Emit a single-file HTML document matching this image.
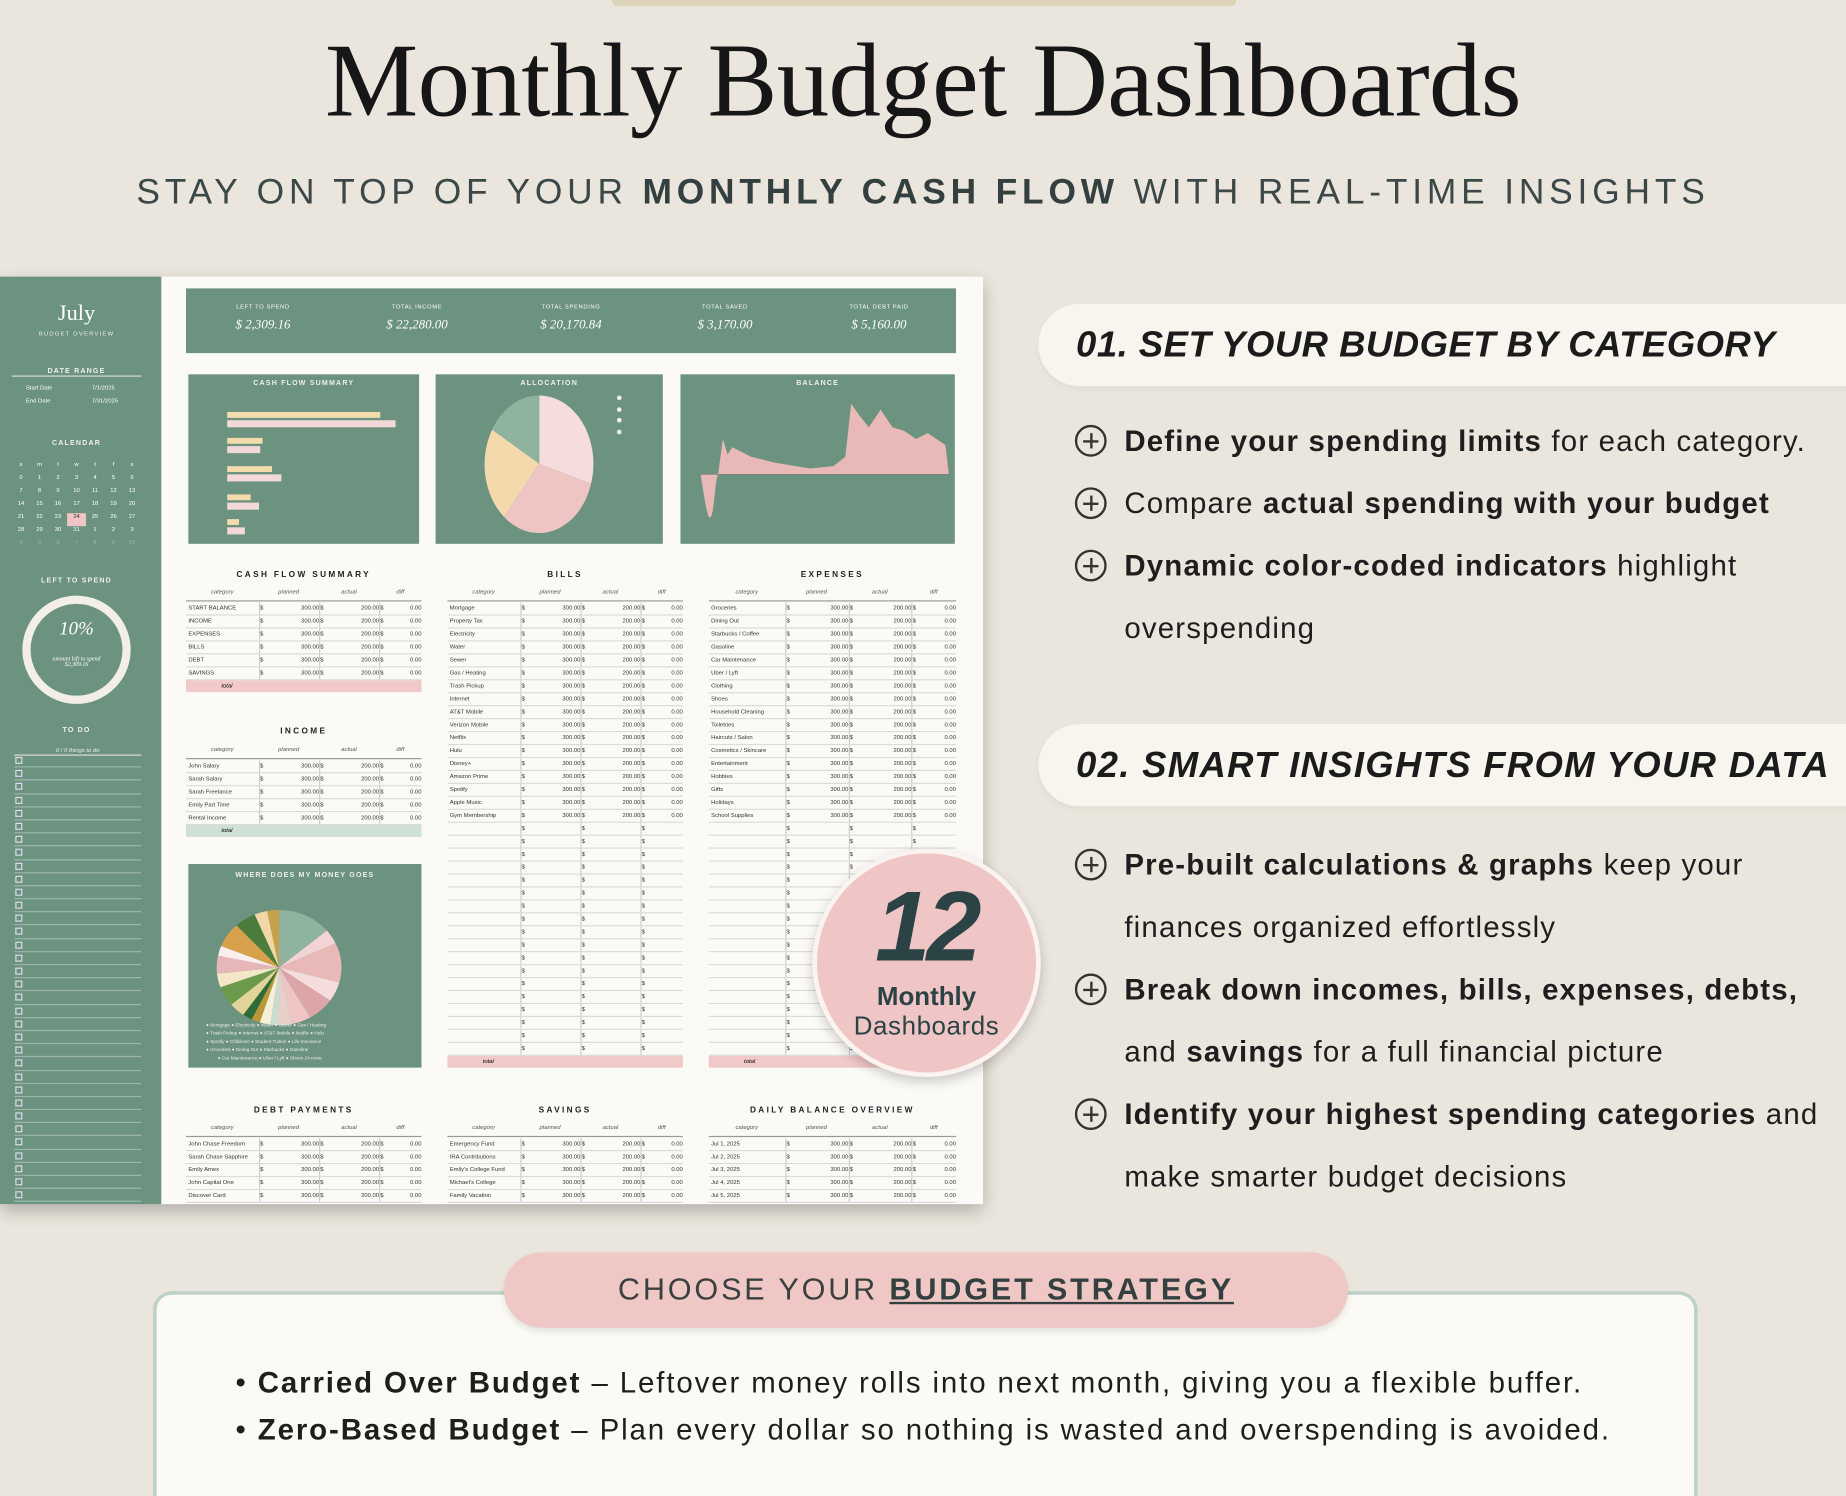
<!DOCTYPE html>
<html><head><meta charset="utf-8">
<style>
*{margin:0;padding:0;box-sizing:border-box}
html,body{width:1846px;height:1496px;overflow:hidden;background:#ebe6dd}
#w{position:absolute;left:0;top:0;width:1568px;height:1271px;transform:scale(1.17730,1.17710);transform-origin:0 0;background:#ebe6dd;font-family:"Liberation Sans",sans-serif;overflow:hidden}
.a{position:absolute}
.title{left:0;width:1568px;top:18px;text-align:center;font-family:"Liberation Serif",serif;font-size:89px;color:#161616;letter-spacing:-0.5px}
.sub{left:0;width:1568px;top:147px;text-align:center;font-size:30px;letter-spacing:4.1px;color:#3b4847}
.sub b{color:#33403f}
.g{background:#6c9280}
.tt{font-size:6px;color:#eee;text-align:center;letter-spacing:1px;font-weight:bold}
.th{font-size:7px;font-weight:bold;letter-spacing:2px;text-align:center;color:#222}
.row{position:absolute;left:0;right:0;height:11px;border-bottom:1px solid #d9dcd7;font-size:5px;color:#333;line-height:11px;padding-left:2px}
.pill{position:absolute;background:#f8f5ef;border-radius:36px 0 0 36px;left:882px;width:700px;height:70px;box-shadow:0 2px 6px rgba(0,0,0,.05)}
.pill span{position:absolute;left:32px;top:17px;font-size:31px;font-weight:bold;font-style:italic;color:#1b1b1b;letter-spacing:.4px}
.bl{position:absolute;left:955px;font-size:25px;color:#1e1e1e;letter-spacing:1px}
.ic{position:absolute;left:913px;width:27px;height:27px;border:2px solid #333;border-radius:50%}
.ic:before{content:"";position:absolute;left:5px;top:10.5px;width:13px;height:2px;background:#333}
.ic:after{content:"";position:absolute;left:10.5px;top:5px;width:2px;height:13px;background:#333}
</style></head><body><div id="w">
<div class="a" style="left:520px;top:0;width:530px;height:5px;background:#dcd3b8;border-radius:0 0 4px 4px"></div>
<div class="a title">Monthly Budget Dashboards</div>
<div class="a sub">STAY ON TOP OF YOUR <b>MONTHLY CASH FLOW</b> WITH REAL-TIME INSIGHTS</div>

<!-- dashboard -->
<div class="a" style="left:0;top:235px;width:835px;height:788px;background:#fbfaf6;box-shadow:0 6px 14px rgba(0,0,0,.25)"></div>
<div class="a g" style="left:0;top:235px;width:137px;height:788px"></div>
<div class="a" style="left:0;top:256px;width:130px;text-align:center;font-family:'Liberation Serif',serif;font-size:19px;color:#fff">July</div>
<div class="a" style="left:0;top:281px;width:130px;text-align:center;font-size:5px;color:#eee;letter-spacing:1px">· BUDGET OVERVIEW ·</div>
<div class="a tt" style="left:10px;top:313px;width:110px;border-bottom:1px solid #ddd">DATE RANGE</div>
<div class="a" style="left:22px;top:325px;font-size:5px;color:#fff;line-height:11px">Start Date<br>End Date</div>
<div class="a" style="left:78px;top:325px;font-size:5px;color:#fff;line-height:11px">7/1/2025<br>7/31/2025</div>
<div class="a tt" style="left:10px;top:374px;width:110px">CALENDAR</div>
<div id="cal" class="a" style="left:10px;top:392px;width:110px"></div>
<div class="a tt" style="left:10px;top:491px;width:110px">LEFT TO SPEND</div>
<div class="a" style="left:19px;top:506px;width:92px;height:92px;border:7px solid #f4efe6;border-radius:50%"></div>
<div class="a" style="left:19px;top:526px;width:92px;text-align:center;font-family:'Liberation Serif',serif;font-style:italic;color:#fff;font-size:16px">10%</div>
<div class="a" style="left:19px;top:558px;width:92px;text-align:center;font-family:'Liberation Serif',serif;font-style:italic;color:#fff;font-size:5px">amount left to spend<br>$2,309.16</div>
<div class="a tt" style="left:10px;top:618px;width:110px">TO DO</div>
<div class="a" style="left:12px;top:635px;width:108px;text-align:center;font-size:5px;color:#eee;font-style:italic;border-bottom:1px solid #ddd">0 / 0 things to do</div>
<div id="todo" class="a" style="left:12px;top:641px;width:108px;height:380px"></div>

<div class="a g" style="left:158px;top:245px;width:654px;height:55px"></div>
<div id="kpi" class="a" style="left:158px;top:258px;width:654px;height:35px;display:flex"></div>

<div class="a g" style="left:160px;top:318px;width:196px;height:144px"></div>
<div class="a tt" style="left:160px;top:323px;width:196px">CASH FLOW SUMMARY</div>
<div class="a" style="left:193px;top:350px;width:130px;height:5px;background:#f2dcae"></div>
<div class="a" style="left:193px;top:357px;width:143px;height:6px;background:#f3d8d8"></div>
<div class="a" style="left:193px;top:372px;width:30px;height:5px;background:#f2dcae"></div>
<div class="a" style="left:193px;top:379px;width:28px;height:6px;background:#f3d8d8"></div>
<div class="a" style="left:193px;top:396px;width:38px;height:5px;background:#f2dcae"></div>
<div class="a" style="left:193px;top:403px;width:46px;height:6px;background:#f3d8d8"></div>
<div class="a" style="left:193px;top:420px;width:20px;height:5px;background:#f2dcae"></div>
<div class="a" style="left:193px;top:427px;width:27px;height:6px;background:#f3d8d8"></div>
<div class="a" style="left:193px;top:441px;width:10px;height:5px;background:#f2dcae"></div>
<div class="a" style="left:193px;top:448px;width:15px;height:6px;background:#f3d8d8"></div>

<div class="a g" style="left:370px;top:318px;width:193px;height:144px"></div>
<div class="a tt" style="left:370px;top:323px;width:193px">ALLOCATION</div>
<svg class="a" style="left:370px;top:318px" width="193" height="144" viewBox="0 0 193 144">
<g transform="translate(88,76)">
<path d="M0,0 L0,-58 A46,58 0 0 1 44,17 Z" fill="#f5dcdd"/>
<path d="M0,0 L44,17 A46,58 0 0 1 -30,45 Z" fill="#efc5c4"/>
<path d="M0,0 L-30,45 A46,58 0 0 1 -40,-29 Z" fill="#f3d9ab"/>
<path d="M0,0 L-40,-29 A46,58 0 0 1 0,-58 Z" fill="#8fb39f"/>
</g>
<g fill="#eee"><circle cx="156" cy="20" r="2"/><circle cx="156" cy="30" r="2"/><circle cx="156" cy="39" r="2"/><circle cx="156" cy="49" r="2"/></g>
</svg>

<div class="a g" style="left:578px;top:318px;width:233px;height:144px"></div>
<div class="a tt" style="left:578px;top:323px;width:233px">BALANCE</div>
<svg class="a" style="left:578px;top:318px" width="233" height="144" viewBox="0 0 233 144">
<path d="M17,85 C20,100 24,140 28,112 C30,95 30,90 32,85 L32,85 Z" fill="#e8b9b6"/>
<path d="M32,85 L36,55 L40,68 L44,62 L60,70 L80,75 L110,80 L130,78 L140,70 L145,25 L152,35 L160,45 L170,30 L180,45 L190,48 L200,55 L210,50 L225,60 L228,85 Z" fill="#e8b9b6"/>
<line x1="15" y1="85" x2="228" y2="85" stroke="#557" stroke-width=".3"/>
</svg>

<div class="a th" style="left:158px;top:485px;width:200px">CASH FLOW SUMMARY</div>
<div class="a th" style="left:380px;top:485px;width:200px">BILLS</div>
<div class="a th" style="left:602px;top:485px;width:210px">EXPENSES</div>
<div id="t1" class="a" style="left:158px;top:500px;width:200px;height:90px"></div>
<div id="t2" class="a" style="left:380px;top:500px;width:200px;height:412px"></div>
<div id="t3" class="a" style="left:602px;top:500px;width:210px;height:412px"></div>
<div class="a th" style="left:158px;top:618px;width:200px">INCOME</div>
<div id="t4" class="a" style="left:158px;top:634px;width:200px;height:78px"></div>

<div class="a g" style="left:160px;top:734px;width:198px;height:173px"></div>
<div class="a tt" style="left:160px;top:741px;width:198px">WHERE DOES MY MONEY GOES</div>
<svg class="a" style="left:160px;top:734px" width="198" height="173" viewBox="0 0 198 173">
<g id="pie2" transform="translate(77,86)"></g>
<g fill="#eee" font-size="4" font-family="Liberation Sans"><text x="15" y="138">● Mortgage ● Electricity ● Water ● Sewer ● Gas / Heating</text><text x="15" y="145">● Trash Pickup ● Internet ● AT&amp;T Mobile ● Netflix ● Hulu</text><text x="15" y="152">● Spotify ● Childcare ● Student Tuition ● Life Insurance</text><text x="15" y="159">● Groceries ● Dining Out ● Starbucks ● Gasoline</text><text x="25" y="166">● Car Maintenance ● Uber / Lyft ● Shoes 24 more</text></g>
</svg>

<div class="a th" style="left:158px;top:940px;width:200px">DEBT PAYMENTS</div>
<div class="a th" style="left:380px;top:940px;width:200px">SAVINGS</div>
<div class="a th" style="left:602px;top:940px;width:210px">DAILY BALANCE OVERVIEW</div>
<div id="t5" class="a" style="left:158px;top:955px;width:200px;height:68px"></div>
<div id="t6" class="a" style="left:380px;top:955px;width:200px;height:68px"></div>
<div id="t7" class="a" style="left:602px;top:955px;width:210px;height:68px"></div>

<!-- badge -->
<div class="a" style="left:690px;top:721px;width:194px;height:194px;border-radius:50%;background:#efc6c5;border:4px solid #fbf3f0;box-shadow:0 4px 10px rgba(0,0,0,.2)"></div>
<div class="a" style="left:690px;top:742px;width:194px;text-align:center;font-size:84px;font-weight:bold;font-style:italic;color:#2c4346;letter-spacing:-3px;line-height:90px">12</div>
<div class="a" style="left:690px;top:834px;width:194px;text-align:center;font-size:22px;font-weight:bold;color:#2c4346">Monthly</div>
<div class="a" style="left:690px;top:859px;width:194px;text-align:center;font-size:22px;color:#2c4346;letter-spacing:.5px">Dashboards</div>

<!-- right -->
<div class="pill" style="top:258px"><span>01. SET YOUR BUDGET BY CATEGORY</span></div>
<div class="ic" style="top:361px"></div><div class="bl" style="top:361px"><b>Define your spending limits</b> for each category.</div>
<div class="ic" style="top:414px"></div><div class="bl" style="top:414px">Compare <b>actual spending with your budget</b></div>
<div class="ic" style="top:467px"></div><div class="bl" style="top:467px"><b>Dynamic color-coded indicators</b> highlight</div>
<div class="bl" style="top:520px">overspending</div>
<div class="pill" style="top:615px"><span style="letter-spacing:1.1px">02. SMART INSIGHTS FROM YOUR DATA</span></div>
<div class="ic" style="top:721px"></div><div class="bl" style="top:721px"><b>Pre-built calculations &amp; graphs</b> keep your</div>
<div class="bl" style="top:774px">finances organized effortlessly</div>
<div class="ic" style="top:827px"></div><div class="bl" style="top:827px"><b>Break down incomes, bills, expenses, debts,</b></div>
<div class="bl" style="top:880px">and <b>savings</b> for a full financial picture</div>
<div class="ic" style="top:933px"></div><div class="bl" style="top:933px"><b>Identify your highest spending categories</b> and</div>
<div class="bl" style="top:986px">make smarter budget decisions</div>

<!-- bottom -->
<div class="a" style="left:130px;top:1097px;width:1312px;height:200px;border:3px solid #bcd2c7;border-radius:16px;background:#fbfaf5"></div>
<div class="a" style="left:428px;top:1064px;width:717px;height:64px;border-radius:32px;background:#efc7c5;box-shadow:0 3px 6px rgba(0,0,0,.1)"></div>
<div class="a" style="left:428px;top:1080px;width:717px;text-align:center;font-size:26px;letter-spacing:2.4px;color:#3a3f3f">CHOOSE YOUR <b style="text-decoration:underline;color:#34403f">BUDGET STRATEGY</b></div>
<div class="a" style="left:200px;top:1155px;font-size:25px;color:#1e1e1e;letter-spacing:1.6px;line-height:40px;white-space:nowrap">• <b>Carried Over Budget</b> – Leftover money rolls into next month, giving you a flexible buffer.<br>• <b>Zero-Based Budget</b> – Plan every dollar so nothing is wasted and overspending is avoided.</div>
</div>
<script>
function el(p,h){document.getElementById(p).innerHTML+=h}
var k=[["LEFT TO SPEND","$ 2,309.16"],["TOTAL INCOME","$ 22,280.00"],["TOTAL SPENDING","$ 20,170.84"],["TOTAL SAVED","$ 3,170.00"],["TOTAL DEBT PAID","$ 5,160.00"]];
k.forEach(function(x){el("kpi",'<div style="flex:1;text-align:center;color:#fff"><div style="font-size:5px;letter-spacing:.5px">'+x[0]+'</div><div style="font-family:Liberation Serif,serif;font-style:italic;font-size:11px;margin-top:6px">'+x[1]+'</div></div>')});
var c="";for(var r=0;r<7;r++){c+='<div style="display:flex;font-size:5px;color:'+(r>5?'#9bb5a8':'#fff')+';height:11px">';for(var d=0;d<7;d++){var bg=(r==4&&d==3)?'background:#efc6c5;color:#333':'';c+='<div style="flex:1;text-align:center;'+bg+'">'+(r==0?'smtwtfs'[d]:((r-1)*7+d-1)%31+1)+'</div>'}c+='</div>'}el("cal",c);
for(var i=0;i<34;i++)el("todo",'<div style="height:11.2px;border-bottom:1px solid #9db8ab;position:relative"><span style="position:absolute;left:1px;top:2px;width:6px;height:6px;border:1px solid #dde"></span></div>');
function tab(id,names,n,tot){var h='<div style="position:absolute;left:0;right:0;top:0;height:11px;border-bottom:1px solid #999;font-size:5px;font-style:italic;color:#555;display:flex"><span style="flex:1.2;text-align:center">category</span><span style="flex:1;text-align:center">planned</span><span style="flex:1;text-align:center">actual</span><span style="flex:.7;text-align:center">diff</span></div>';
for(var i=0;i<n;i++){var nm=names[i]||"";var hasv=i<names.length;h+='<div class="row" style="top:'+(12+i*11)+'px;display:flex"><span style="flex:1.2;border-right:1px solid #ccc">'+nm+'</span><span style="flex:1;border-right:1px solid #ccc">$ '+(hasv?'<i style="float:right;font-style:normal">300.00</i>':'')+'</span><span style="flex:1;border-right:1px solid #ccc">$ '+(hasv?'<i style="float:right;font-style:normal">200.00</i>':'')+'</span><span style="flex:.7">$ '+(hasv?'<i style="float:right;font-style:normal">0.00</i>':'')+'</span></div>'}
if(tot)h+='<div style="position:absolute;left:0;right:0;top:'+(12+n*11)+'px;height:10px;background:'+tot+';font-size:5px;font-style:italic;text-align:left;padding-left:30px;line-height:10px">total</div>';el(id,h)}
tab("t1",["START BALANCE","INCOME","EXPENSES","BILLS","DEBT","SAVINGS"],6,"#f1c9c8");
tab("t2",["Mortgage","Property Tax","Electricity","Water","Sewer","Gas / Heating","Trash Pickup","Internet","AT&T Mobile","Verizon Mobile","Netflix","Hulu","Disney+","Amazon Prime","Spotify","Apple Music","Gym Membership"],35,"#f1c9c8");
tab("t3",["Groceries","Dining Out","Starbucks / Coffee","Gasoline","Car Maintenance","Uber / Lyft","Clothing","Shoes","Household Cleaning","Toiletries","Haircuts / Salon","Cosmetics / Skincare","Entertainment","Hobbies","Gifts","Holidays","School Supplies"],35,"#f1c9c8");
tab("t4",["John Salary","Sarah Salary","Sarah Freelance","Emily Part Time","Rental Income"],5,"#cfe0d7");
tab("t5",["John Chase Freedom","Sarah Chase Sapphire","Emily Amex","John Capital One","Discover Card"],5);
tab("t6",["Emergency Fund","IRA Contributions","Emily's College Fund","Michael's College","Family Vacation"],5);
tab("t7",["Jul 1, 2025","Jul 2, 2025","Jul 3, 2025","Jul 4, 2025","Jul 5, 2025"],5);
var cols=["#8fb39f","#f2d4d4","#e8b9b6","#f5dcdd","#dca6a8","#efc5c4","#e9cfc9","#c9dccf","#f7efd8","#b9983a","#2f6b36","#e3d49a","#6b9a4c","#f3e7c7","#e6b6b8","#fbeeee","#d8a24c","#4a7d3c","#f1d7a8","#c7a14a"];
var s=0,w=[50,15,40,20,25,18,12,8,10,8,9,15,20,14,18,10,25,20,12,11],T=w.reduce(function(a,b){return a+b}),p="";
w.forEach(function(v,i){var a0=s/T*2*Math.PI-Math.PI/2;s+=v;var a1=s/T*2*Math.PI-Math.PI/2;var x0=53*Math.cos(a0),y0=72*Math.sin(a0),x1=53*Math.cos(a1),y1=72*Math.sin(a1);p+='<path d="M0,0 L'+x0+','+y0+' A53,72 0 '+((a1-a0)>Math.PI?1:0)+' 1 '+x1+','+y1+' Z" fill="'+cols[i%cols.length]+'"/>'});
document.getElementById("pie2").innerHTML=p;document.getElementById("pie2").setAttribute("transform","translate(77,88) scale(1,0.68)");
</script>
</body></html>
